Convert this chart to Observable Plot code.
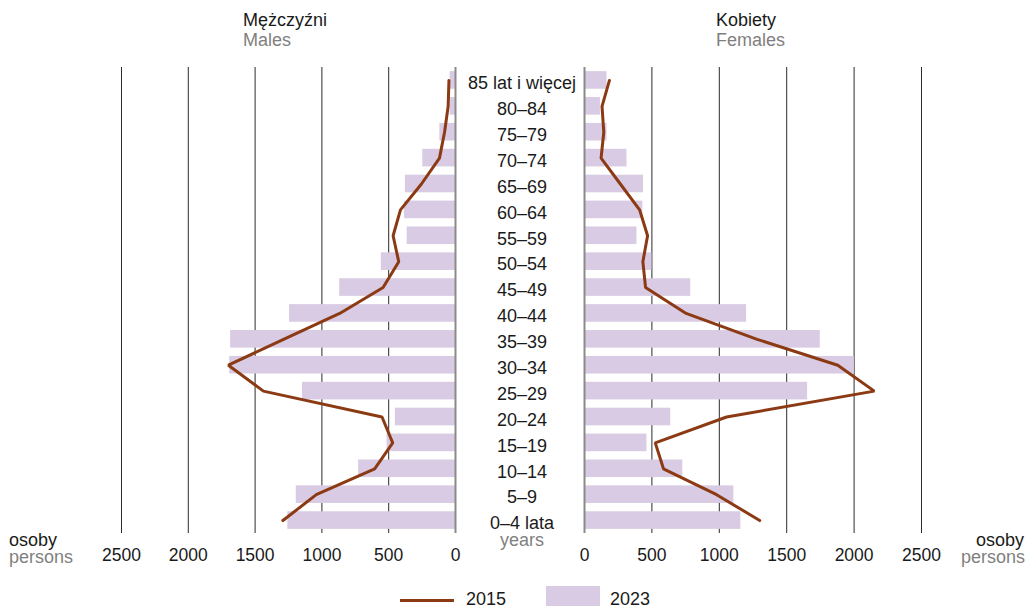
<!DOCTYPE html>
<html>
<head>
<meta charset="utf-8">
<script src="https://cdn.jsdelivr.net/npm/d3@7"></script>
<script src="https://cdn.jsdelivr.net/npm/@observablehq/plot@0.6"></script>
<style>
  body { margin: 0; background: #fff; font-family: "Liberation Sans", Arial, sans-serif; }
  #wrap { position: relative; width: 1029px; height: 606px; overflow: hidden; }
  .abs { position: absolute; font-size: 18px; line-height: 16px; white-space: nowrap; color: #1a1a1a; }
  .leg { line-height: 14px; }
  .grey { color: #7f7f7f; }
  #left, #right { position: absolute; top: 0; }
  #left { left: 0; }
  #right { left: 520px; }
</style>
</head>
<body>
<div id="wrap">
  <div id="left"></div>
  <div id="right"></div>
  <div class="abs" style="left:243px; top:12.4px;">Mężczyźni</div>
  <div class="abs grey" style="left:243px; top:31.7px;">Males</div>
  <div class="abs" style="left:716px; top:12.4px;">Kobiety</div>
  <div class="abs grey" style="left:716px; top:31.7px;">Females</div>
  <div class="abs" style="left:9px; top:532.4px;">osoby</div>
  <div class="abs grey" style="left:9px; top:548.8px;">persons</div>
  <div class="abs" style="right:5px; top:532.4px; text-align:right;">osoby</div>
  <div class="abs grey" style="right:4px; top:548.8px; text-align:right;">persons</div>
  <div class="abs grey" style="left:496px; width:52px; text-align:center; top:532px;">years</div>
  <div style="position:absolute; left:400px; top:598.5px; width:54px; height:3.5px; background:#8b3a14;"></div>
  <div class="abs leg" style="left:466px; top:591.7px;">2015</div>
  <div style="position:absolute; left:546px; top:586px; width:54px; height:20px; background:#d8cbe3;"></div>
  <div class="abs leg" style="left:610px; top:591.7px;">2023</div>
</div>
<script>
const ages = ["85 lat i więcej","80–84","75–79","70–74","65–69","60–64","55–59","50–54","45–49","40–44","35–39","30–34","25–29","20–24","15–19","10–14","5–9","0–4 lata"];
const males2023 = [40, 40, 117, 245, 375, 382, 362, 555, 867, 1242, 1683, 1690, 1145, 450, 512, 725, 1192, 1255];
const males2015 = [49, 55, 82, 120, 255, 412, 467, 425, 542, 867, 1287, 1700, 1438, 550, 470, 605, 1042, 1292];
const females2023 = [167, 118, 167, 315, 438, 433, 389, 500, 788, 1202, 1749, 2002, 1655, 640, 463, 729, 1108, 1160];
const females2015 = [185, 130, 143, 123, 266, 409, 468, 433, 453, 754, 1281, 1879, 2150, 1054, 525, 586, 980, 1300];
const tickValues = [0, 500, 1000, 1500, 2000, 2500];
const gridValues = [500, 1000, 1500, 2000, 2500];

const table = ages.map((age, i) => ({age, m2023: males2023[i], m2015: males2015[i], f2023: females2023[i], f2015: females2015[i]}));

const barColor = "#d8cbe3";
const lineColor = "#8b3a14";
const FONT = "Liberation Sans, Arial, sans-serif";

function panel({width, marginLeft, marginRight, reverse, v23, v15, labels}) {
  const marks = [
    Plot.gridX(gridValues, {stroke: "#2a2a2a", strokeOpacity: 1, strokeWidth: 1}),
    Plot.barX(table, {x: v23, y: "age", fill: barColor}),
    Plot.ruleX([0], {stroke: "#8a8a8a", strokeWidth: 2}),
    Plot.line(table, {x: v15, y: "age", stroke: lineColor, strokeWidth: 3, strokeLinejoin: "miter"}),
    Plot.axisX({anchor: "bottom", ticks: tickValues, tickSize: 0, tickPadding: 15, fontSize: 17.5, tickFormat: d3.format("d"), label: null, fill: "#1a1a1a"})
  ];
  if (labels) {
    marks.push(Plot.text(table, {y: "age", text: "age", frameAnchor: "right", dx: 66.5, dy: 3, textAnchor: "middle", fontSize: 18, fill: "#1a1a1a"}));
  }
  return Plot.plot({
    width, height: 580,
    marginLeft, marginRight, marginTop: 67, marginBottom: 47,
    style: {fontFamily: FONT, fontSize: "18px", overflow: "visible", background: "transparent"},
    x: {domain: [0, 2500], reverse, label: null},
    y: {type: "band", domain: ages, paddingInner: 0.32, paddingOuter: 0.16, round: false, axis: null},
    marks
  });
}

document.getElementById("left").append(panel({width: 520, marginLeft: 121, marginRight: 65, reverse: true, v23: "m2023", v15: "m2015", labels: true}));
document.getElementById("right").append(panel({width: 509, marginLeft: 64, marginRight: 108, reverse: false, v23: "f2023", v15: "f2015", labels: false}));
</script>
</body>
</html>
